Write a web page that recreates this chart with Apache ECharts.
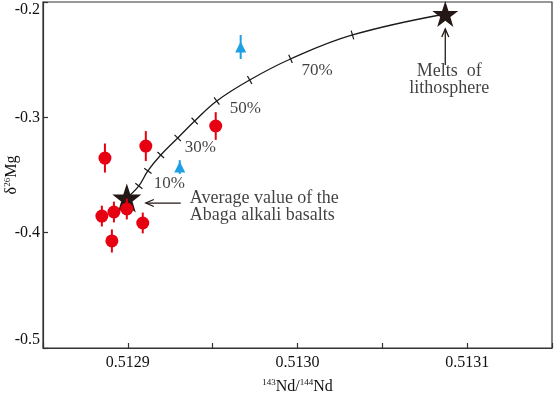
<!DOCTYPE html>
<html>
<head>
<meta charset="utf-8">
<script src="https://cdn.jsdelivr.net/npm/echarts@6/dist/echarts.min.js"></script>
<style>
html,body{margin:0;padding:0;background:#fff;}
#c{width:554px;height:394px;}
</style>
</head>
<body>
<div id="c"></div>
<script>
// ---- data ----
const xTickLabels = ['0.5129', '0.5130', '0.5131'];
const yTickLabels = ['-0.2', '-0.3', '-0.4', '-0.5'];

// red circles: [143Nd/144Nd, d26Mg, error]
const redX = [0.5128865, 0.5129106, 0.5129518, 0.5128847, 0.5128918, 0.5128994, 0.5129088, 0.5128906];
const redY = [-0.3353, -0.3249, -0.3075, -0.3856, -0.3821, -0.3795, -0.3916, -0.4072];
const redErr = [0.0126, 0.013, 0.012, 0.009, 0.009, 0.009, 0.009, 0.010];

// blue triangles
const blueX = [0.5129306, 0.5129665];
const blueY = [-0.3431, -0.2390];
const blueErr = [0.006, 0.0104];

// end members (stars)
const starX = [0.5128994, 0.5130871];
const starY = [-0.3699, -0.2104];
const starSize = [29, 26];

// mixing curve
const curveX = [0.5128994, 0.5129065, 0.5129118, 0.5129194, 0.5129294, 0.5129394, 0.5129524, 0.5129718, 0.5129959, 0.5130324, 0.5130871];
const curveY = [-0.3699, -0.3595, -0.3465, -0.3327, -0.3179, -0.3032, -0.2858, -0.2676, -0.2494, -0.2286, -0.2104];
const curveTickIdx = [1, 2, 3, 4, 5, 6, 7, 8, 9];

// percent labels
const pctText = ['10%', '30%', '50%', '70%'];
const pctX = [0.5129153, 0.5129335, 0.5129600, 0.5130024];
const pctY = [-0.3578, -0.3266, -0.2928, -0.2598];

// annotations
const noteText = ['Average value of the\nAbaga alkali basalts', 'Melts  of\nlithosphere'];
const noteX = [0.5129365, 0.5130894];
const noteY = [-0.3773, -0.2672];
const noteAlign = ['left', 'center'];

// arrows [x1, y1, x2(head), y2(head)]
const arrows = [
  [0.5129312, -0.3743, 0.5129106, -0.3743],
  [0.5130871, -0.2546, 0.5130871, -0.2234]
];

// ---- chart ----
const FONT = '"Liberation Serif", "Times New Roman", serif';
const TXT = '#111';
const RED = '#e60012';
const BLUE = '#1e9fe3';

const chart = echarts.init(document.getElementById('c'));

function errRender(color) {
  return function (params, api) {
    const x = api.value(0), y = api.value(1), e = api.value(2);
    const a = api.coord([x, y + e]);
    const b = api.coord([x, y - e]);
    return { type: 'line', shape: { x1: a[0], y1: a[1], x2: b[0], y2: b[1] },
      style: { stroke: color, lineWidth: 2 } };
  };
}

const option = {
  animation: false,
  backgroundColor: '#fff',
  grid: { left: 43, right: 2, top: 2, bottom: 46, containLabel: false, outerBoundsMode: 'none',
    show: true, borderColor: '#333', borderWidth: 1.2, backgroundColor: 'transparent' },
  xAxis: {
    type: 'value', min: 0.51285, max: 0.51315, interval: 0.00005,
    name: '{sup|143}{n|Nd/}{sup|144}{n|Nd}', nameLocation: 'middle', nameGap: 30, nameMoveOverlap: false,
    nameTextStyle: { rich: {
      n: { fontFamily: FONT, fontSize: 16, color: TXT, lineHeight: 18 },
      sup: { fontFamily: FONT, fontSize: 9, color: TXT, verticalAlign: 'top', lineHeight: 18, padding: [0, 0, 6, 0] }
    } },
    axisLine: { lineStyle: { color: '#333', width: 1.2 } },
    axisTick: { inside: true, length: 5, lineStyle: { color: '#333', width: 1.2 } },
    splitLine: { show: false },
    axisLabel: {
      margin: 7, fontFamily: FONT, fontSize: 16, color: TXT,
      formatter: function (v) {
        const s = v.toFixed(4);
        const k = Math.round(v * 1e5);
        return (k % 10 === 0 && xTickLabels.indexOf(s) >= 0) ? s : '';
      }
    }
  },
  yAxis: {
    type: 'value', min: -0.5, max: -0.2, interval: 0.1,
    name: '{d|δ}{sup|26}{n|Mg}', nameLocation: 'middle', nameGap: 22, nameRotate: 90, nameMoveOverlap: false,
    nameTextStyle: { rich: {
      d: { fontFamily: FONT, fontSize: 16, color: TXT, lineHeight: 18 },
      n: { fontFamily: FONT, fontSize: 16, color: TXT, lineHeight: 18 },
      sup: { fontFamily: FONT, fontSize: 9, color: TXT, verticalAlign: 'top', lineHeight: 18, padding: [0, 0, 6, 0] }
    } },
    axisLine: { lineStyle: { color: '#333', width: 1.2 } },
    axisTick: { inside: true, length: 5, lineStyle: { color: '#333', width: 1.2 } },
    splitLine: { show: false },
    axisLabel: {
      margin: 3, fontFamily: FONT, fontSize: 16, color: TXT,
      verticalAlignMaxLabel: 'top', verticalAlignMinLabel: 'bottom',
      formatter: function (v) {
        const s = (Math.round(v * 10) / 10).toFixed(1);
        return yTickLabels.indexOf(s) >= 0 ? s : '';
      }
    }
  },
  series: [
    {
      type: 'line', data: curveX.map((x, i) => [x, curveY[i]]), smooth: 0.4,
      symbol: 'none', lineStyle: { color: '#1a1a1a', width: 1.3 }, z: 2
    },
    {
      type: 'custom', data: curveTickIdx.map(i => [curveX[i], curveY[i], i]),
      encode: { x: 0, y: 1 }, z: 2,
      renderItem: function (params, api) {
        const i = api.value(2);
        const p = api.coord([curveX[i], curveY[i]]);
        const a = api.coord([curveX[i - 1], curveY[i - 1]]);
        const b = api.coord([curveX[i + 1], curveY[i + 1]]);
        const dx = b[0] - a[0], dy = b[1] - a[1];
        const L = Math.hypot(dx, dy);
        const nx = -dy / L, ny = dx / L;
        return { type: 'line', shape: { x1: p[0] - nx * 4.5, y1: p[1] - ny * 4.5, x2: p[0] + nx * 4.5, y2: p[1] + ny * 4.5 },
          style: { stroke: '#1a1a1a', lineWidth: 1.2 } };
      }
    },
    {
      type: 'scatter', data: starX.map((x, i) => ({ value: [x, starY[i]], symbolSize: starSize[i] })),
      symbol: 'path://M50,0 L61.8,35.5 L98,35.5 L68.8,57.5 L79.8,93 L50,71 L20.2,93 L31.2,57.5 L2,35.5 L38.2,35.5 Z',
      itemStyle: { color: '#231815', opacity: 1 }, z: 3
    },
    {
      type: 'custom', data: redX.map((x, i) => [x, redY[i], redErr[i]]),
      encode: { x: 0, y: 1 }, renderItem: errRender(RED), z: 4
    },
    {
      type: 'scatter', data: redX.map((x, i) => [x, redY[i]]), symbol: 'circle', symbolSize: 13,
      itemStyle: { color: RED, opacity: 1 }, z: 5
    },
    {
      type: 'custom', data: blueX.map((x, i) => [x, blueY[i], blueErr[i]]),
      encode: { x: 0, y: 1 }, renderItem: errRender(BLUE), z: 4
    },
    {
      type: 'scatter', data: blueX.map((x, i) => [x, blueY[i]]), symbol: 'triangle', symbolSize: [11, 11],
      itemStyle: { color: BLUE, opacity: 1 }, z: 5
    },
    {
      type: 'custom', data: arrows, encode: { x: [0, 2], y: [1, 3] }, z: 3,
      renderItem: function (params, api) {
        const s = api.coord([api.value(0), api.value(1)]);
        const h = api.coord([api.value(2), api.value(3)]);
        const dx = h[0] - s[0], dy = h[1] - s[1];
        const L = Math.hypot(dx, dy);
        const ux = dx / L, uy = dy / L;
        const nx = -uy, ny = ux;
        const bx = h[0] - ux * 8, by = h[1] - uy * 8;
        return { type: 'group', children: [
          { type: 'line', shape: { x1: s[0], y1: s[1], x2: h[0], y2: h[1] }, style: { stroke: '#231815', lineWidth: 1.3 } },
          { type: 'polyline', shape: { points: [[bx + nx * 3.5, by + ny * 3.5], [h[0], h[1]], [bx - nx * 3.5, by - ny * 3.5]] },
            style: { stroke: '#231815', lineWidth: 1.3, fill: null } }
        ] };
      }
    },
    {
      type: 'scatter', symbolSize: 0, z: 6, silent: true,
      data: pctText.map((t, i) => ({ value: [pctX[i], pctY[i]], label: { formatter: t } })),
      label: { show: true, position: 'inside', align: 'left', verticalAlign: 'middle',
        fontFamily: FONT, fontSize: 17, color: TXT }
    },
    {
      type: 'scatter', symbolSize: 0, z: 6, silent: true,
      data: noteText.map((t, i) => ({ value: [noteX[i], noteY[i]], label: { formatter: t, align: noteAlign[i] } })),
      label: { show: true, position: 'inside', verticalAlign: 'middle', lineHeight: 17,
        fontFamily: FONT, fontSize: 18, color: TXT }
    }
  ]
};
chart.setOption(option);
</script>
</body>
</html>
